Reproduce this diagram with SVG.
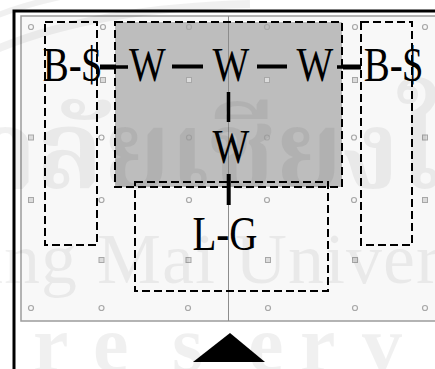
<svg xmlns="http://www.w3.org/2000/svg" width="435" height="369" viewBox="0 0 435 369">
  <style>
    .box { fill: none; stroke: #000; stroke-width: 2; stroke-dasharray: 8 4; }
    .lbl { font-family: "Liberation Serif", "Times New Roman", serif; font-size: 39px; fill: #000; text-anchor: middle; }
    .link { stroke: #000; stroke-linecap: butt; fill: none; }
    .mk-c { fill: none; stroke: #a8a8a8; stroke-width: 1.2; }
    .mk-s { fill: #dcdcdc; stroke: #a8a8a8; stroke-width: 1; }
    .wm { fill: #000; fill-opacity: 0.06; }
    .wm-arc { fill: none; stroke: #000; stroke-opacity: 0.06; }
    .wm-en { font-family: "Liberation Serif", "Times New Roman", serif; }
  </style>

  <!-- page background -->
  <rect x="0" y="0" width="435" height="369" fill="#ffffff"/>

  <!-- outer frame -->
  <rect x="14" y="11" width="450" height="400" fill="none" stroke="#000" stroke-width="3"/>

  <!-- grid panel -->
  <rect x="21" y="16" width="430" height="305" fill="#f8f8f8" stroke="#9c9c9c" stroke-width="1.5"/>

  <!-- shaded zone -->
  <rect x="115" y="22" width="227" height="165" fill="#bdbdbd"/>

  <!-- centre axis -->
  <line x1="228.5" y1="16" x2="228.5" y2="321" stroke="#8c8c8c" stroke-width="1"/>

  <!-- grid markers -->
  <g id="markers">
    <circle class="mk-c" cx="31" cy="27" r="2.5"/>
    <circle class="mk-c" cx="103" cy="27" r="2.5"/>
    <circle class="mk-c" cx="189" cy="27" r="2.5"/>
    <circle class="mk-c" cx="267" cy="27" r="2.5"/>
    <circle class="mk-c" cx="355" cy="27" r="2.5"/>
    <circle class="mk-c" cx="425" cy="27" r="2.5"/>

    <rect class="mk-s" x="100.5" y="77.5" width="5" height="5"/>
    <rect class="mk-s" x="186.5" y="77.5" width="5" height="5"/>
    <rect class="mk-s" x="264.5" y="77.5" width="5" height="5"/>
    <rect class="mk-s" x="352.5" y="77.5" width="5" height="5"/>

    <rect class="mk-s" x="28.5" y="135" width="5" height="5"/>
    <circle class="mk-c" cx="101.5" cy="137.5" r="2.5"/>
    <circle class="mk-c" cx="189" cy="137.5" r="2.5"/>
    <circle class="mk-c" cx="267" cy="137.5" r="2.5"/>
    <circle class="mk-c" cx="354" cy="137.5" r="2.5"/>
    <rect class="mk-s" x="422.5" y="135" width="5" height="5"/>

    <rect class="mk-s" x="28.5" y="197.5" width="5" height="5"/>
    <circle class="mk-c" cx="101.5" cy="200" r="2.5"/>
    <circle class="mk-c" cx="189" cy="200" r="2.5"/>
    <circle class="mk-c" cx="267" cy="200" r="2.5"/>
    <circle class="mk-c" cx="354" cy="200" r="2.5"/>
    <rect class="mk-s" x="422.5" y="197.5" width="5" height="5"/>

    <rect class="mk-s" x="99" y="257.5" width="5" height="5"/>
    <rect class="mk-s" x="186" y="257.5" width="5" height="5"/>
    <rect class="mk-s" x="265.5" y="257.5" width="5" height="5"/>
    <rect class="mk-s" x="352.5" y="257.5" width="5" height="5"/>

    <circle class="mk-c" cx="31" cy="308" r="2.5"/>
    <circle class="mk-c" cx="101.5" cy="308" r="2.5"/>
    <circle class="mk-c" cx="188" cy="308" r="2.5"/>
    <circle class="mk-c" cx="268" cy="308" r="2.5"/>
    <circle class="mk-c" cx="355" cy="308" r="2.5"/>
    <circle class="mk-c" cx="425" cy="308" r="2.5"/>
  </g>

  <!-- faint background lettering -->
  <g id="watermark" class="wm">
    <path class="wm-arc" d="M -10 52 Q 90 8 250 4" stroke-width="8"/>
    <path class="wm-arc" d="M -4 16 Q 20 6 60 -3" stroke-width="6"/>
    <text x="-20" y="188" font-family="'Noto Serif Thai', 'Noto Sans Thai', 'Noto Sans', sans-serif" font-weight="bold" font-size="108">าลัยเชียงใหม่</text>
    <text class="wm-en" x="-136" y="283" font-size="72" letter-spacing="1">Chiang Mai University</text>
    <text class="wm-en" y="371" font-size="80" font-weight="bold">
      <tspan x="33">r</tspan><tspan x="93">e</tspan><tspan x="172">s</tspan><tspan x="248">e</tspan><tspan x="300">r</tspan><tspan x="362">v</tspan>
    </text>
  </g>

  <!-- zones -->
  <g id="zone-left"><rect class="box" x="45" y="22" width="52" height="223"/></g>
  <g id="zone-centre"><rect class="box" x="115" y="22" width="227" height="165"/></g>
  <g id="zone-lower"><rect class="box" x="135" y="182" width="193" height="109"/></g>
  <g id="zone-right"><rect class="box" x="361" y="22" width="51" height="223"/></g>

  <!-- connectors -->
  <g id="connectors">
    <line class="link" x1="100" y1="67" x2="116" y2="67" stroke-width="5"/>
    <line class="link" x1="116" y1="67" x2="128" y2="67" stroke-width="3.5"/>
    <line class="link" x1="172" y1="66.5" x2="203" y2="66.5" stroke-width="4"/>
    <line class="link" x1="257" y1="66.5" x2="287" y2="66.5" stroke-width="4"/>
    <line class="link" x1="337" y1="67" x2="343" y2="67" stroke-width="3.5"/>
    <line class="link" x1="343" y1="67" x2="361" y2="67" stroke-width="5"/>
    <line class="link" x1="228.5" y1="92" x2="228.5" y2="122" stroke-width="3.5"/>
    <line class="link" x1="228.7" y1="174" x2="228.7" y2="205" stroke-width="4"/>
  </g>

  <!-- nodes -->
  <g id="node-bs-left"><text class="lbl" transform="translate(72,81) scale(1,1.26)">B-$</text></g>
  <g id="node-w1"><text class="lbl" transform="translate(147.5,81) scale(1,1.26)">W</text></g>
  <g id="node-w2"><text class="lbl" transform="translate(231,81) scale(1,1.26)">W</text></g>
  <g id="node-w3"><text class="lbl" transform="translate(315,81) scale(1,1.26)">W</text></g>
  <g id="node-bs-right"><text class="lbl" transform="translate(393,81) scale(1,1.26)">B-$</text></g>
  <g id="node-w4"><text class="lbl" transform="translate(231,163) scale(1,1.26)">W</text></g>
  <g id="node-lg"><text class="lbl" transform="translate(225,250) scale(1,1.26)">L-G</text></g>

  <!-- direction arrow -->
  <polygon points="230,333 193,362 265,362" fill="#000"/>
</svg>
